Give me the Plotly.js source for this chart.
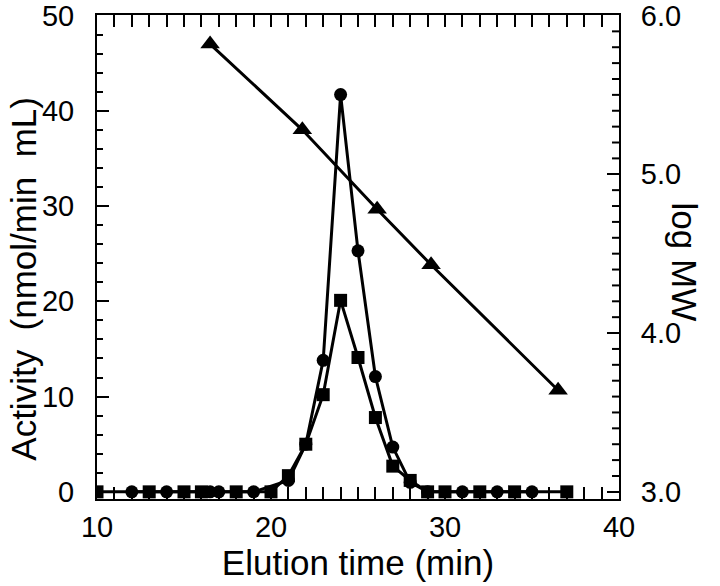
<!DOCTYPE html>
<html>
<head>
<meta charset="utf-8">
<script src="https://cdn.plot.ly/plotly-3.0.1.min.js"></script>
<style>
  body { margin: 0; background: #fff; }
  #plotArea { width: 720px; height: 586px; }
</style>
</head>
<body>
<div id="plotArea"></div>
<script>
// activity, circles
var circleTime = [12, 14, 16.5, 17, 19, 21, 22, 23, 24, 25, 26, 27, 28, 29, 31, 33, 35];
var circleAct  = [0, 0, 0, 0, 0, 1.2, 5.0, 13.8, 41.7, 25.3, 12.1, 4.7, 1.0, 0, 0, 0, 0];

// activity, squares
var squareTime = [10, 13, 15, 16, 18, 20, 21, 22, 23, 24, 25, 26, 27, 28, 29, 30, 32, 34, 37];
var squareAct  = [0, 0, 0, 0, 0, 0, 1.7, 5.0, 10.2, 20.1, 14.1, 7.8, 2.7, 1.2, 0, 0, 0, 0, 0];

// standards, log MW on the right axis
var stdTime  = [16.5, 21.8, 26.1, 29.2, 36.5];
var stdLogMW = [5.82, 5.28, 4.78, 4.43, 3.64];

var xTicks = [10, 15, 20, 25, 30, 35, 40];
var xLabels = ['10', '', '20', '', '30', '', '40'];
var yTicks = [0, 10, 20, 30, 40, 50];
var y2Ticks = [3, 4, 5, 6];
var y2Labels = ['3.0', '4.0', '5.0', '6.0'];

// minor ticks for the right axis, every 0.1 between the labelled ones
var y2Minor = [];
for (var i = 1; i < 30; i++) if (i % 10 !== 0) y2Minor.push(3 + i / 10);

var lineStyle = {color: 'black', width: 3};

var circles = {
    x: circleTime, y: circleAct,
    mode: 'lines+markers', type: 'scatter',
    line: lineStyle,
    marker: {symbol: 'circle', size: 13, color: 'black'}
};

var squares = {
    x: squareTime, y: squareAct,
    mode: 'lines+markers', type: 'scatter',
    line: lineStyle,
    marker: {symbol: 'square', size: 13, color: 'black'}
};

var standards = {
    x: stdTime, y: stdLogMW, yaxis: 'y2',
    mode: 'lines+markers', type: 'scatter',
    line: lineStyle,
    marker: {symbol: 'triangle-up', size: 17, color: 'black'}
};

var tickFont = {family: 'Liberation Sans, Arial, sans-serif', size: 29, color: 'black'};
var titleFont = {family: 'Liberation Sans, Arial, sans-serif', size: 35, color: 'black'};

var plotWidth = 720 - 97 - 101;
var minorTicks = y2Minor.map(function (v) {
    return {
        type: 'line', xref: 'paper', yref: 'y2', layer: 'above',
        x0: 1, x1: 1 - 7 / plotWidth, y0: v, y1: v,
        line: {color: 'black', width: 2}
    };
});

var layout = {
    width: 720, height: 586,
    margin: {l: 97, r: 101, t: 15, b: 87},
    showlegend: false,
    paper_bgcolor: 'white', plot_bgcolor: 'white',
    xaxis: {
        range: [10, 40],
        tickmode: 'array', tickvals: xTicks, ticktext: xLabels,
        ticks: 'inside', ticklen: 12, tickwidth: 2, tickcolor: 'black',
        minor: {tick0: 10, dtick: 1, ticks: 'inside', ticklen: 6, tickwidth: 2, tickcolor: 'black'},
        showline: true, linewidth: 2, linecolor: 'black', mirror: 'allticks',
        showgrid: false, zeroline: false,
        tickfont: tickFont, ticklabelstandoff: 1, ticklabeloverflow: 'allow',
        title: {text: 'Elution time (min)', font: titleFont, standoff: 4}
    },
    yaxis: {
        range: [-0.75, 50.05],
        tickmode: 'array', tickvals: yTicks,
        ticks: 'inside', ticklen: 12, tickwidth: 2, tickcolor: 'black',
        minor: {tick0: 0, dtick: 2, ticks: 'inside', ticklen: 6, tickwidth: 2, tickcolor: 'black'},
        showline: true, linewidth: 2, linecolor: 'black',
        showgrid: false, zeroline: false,
        tickfont: tickFont, ticklabelstandoff: 15, ticklabeloverflow: 'allow'
    },
    yaxis2: {
        overlaying: 'y', side: 'right', anchor: 'x',
        range: [2.955, 6.003],
        tickmode: 'array', tickvals: y2Ticks, ticktext: y2Labels,
        ticks: 'inside', ticklen: 12, tickwidth: 2, tickcolor: 'black',
        showline: true, linewidth: 2, linecolor: 'black',
        showgrid: false, zeroline: false,
        tickfont: tickFont, ticklabelstandoff: 14, ticklabeloverflow: 'allow'
    },
    shapes: minorTicks,
    annotations: [{
        text: 'Activity  (nmol/min  mL)', xref: 'paper', yref: 'paper',
        x: -0.14, y: 0.455, xanchor: 'center', yanchor: 'middle',
        showarrow: false, textangle: -90,
        font: titleFont
    }, {
        text: 'log MW', xref: 'paper', yref: 'paper',
        x: 1.125, y: 0.49, xanchor: 'center', yanchor: 'middle',
        showarrow: false, textangle: 90,
        font: titleFont
    }]
};

Plotly.newPlot('plotArea', [circles, squares, standards], layout, {displayModeBar: false});
</script>
</body>
</html>
